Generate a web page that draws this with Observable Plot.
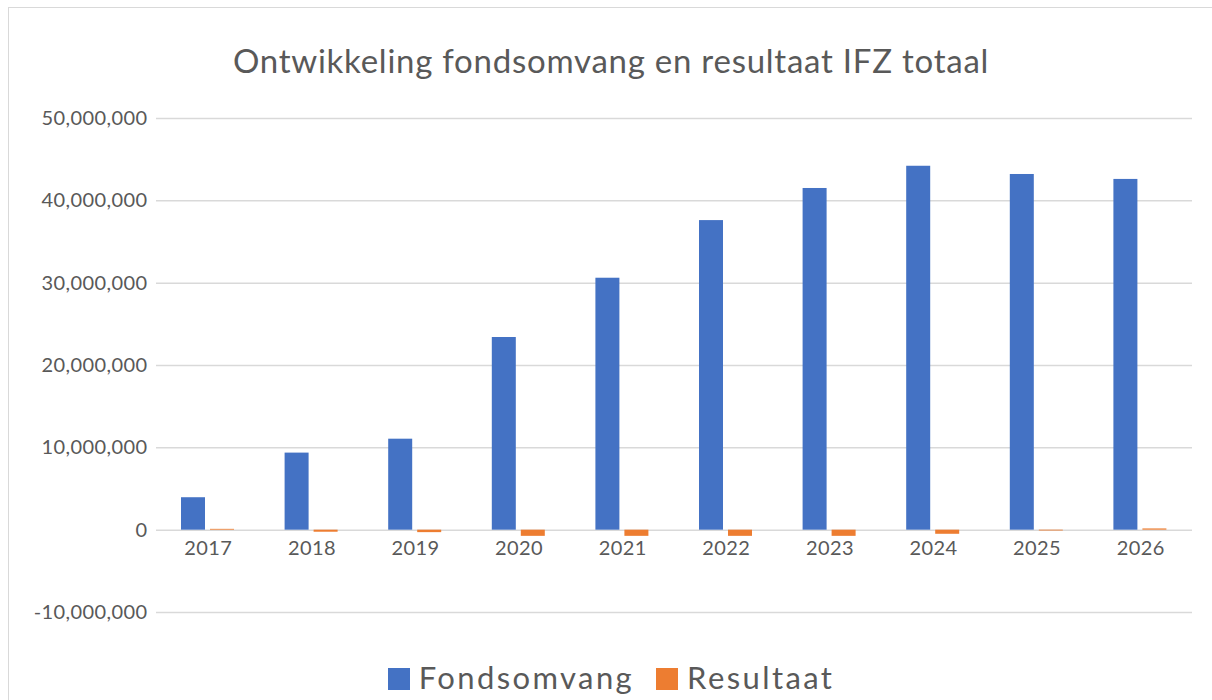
<!DOCTYPE html>
<html>
<head>
<meta charset="utf-8">
<script src="https://cdn.jsdelivr.net/npm/d3@7"></script>
<script src="https://cdn.jsdelivr.net/npm/@observablehq/plot@0.6"></script>
<style>
  html, body { margin: 0; padding: 0; background: #fff; overflow: hidden; }
  #wrap { position: relative; width: 1212px; height: 700px; overflow: hidden; font-family: Lato, sans-serif; color: #595959; }
  #frame { position: absolute; left: 8px; top: 7px; width: 1230px; height: 720px; border: 1.5px solid #d9d9d9; box-sizing: border-box; }
  #title { position: absolute; left: 0; top: 40px; width: 1222px; text-align: center; font-size: 33px; letter-spacing: 0.75px; line-height: 40px; }
  #chart { position: absolute; left: 0; top: 0; }
  #legend { position: absolute; left: 0; top: 657px; width: 1222px; display: flex; justify-content: center; align-items: center; font-size: 31px; letter-spacing: 2.4px; line-height: 40px; }
  .item { display: flex; align-items: center; }
  .sw { width: 22px; height: 22px; margin-right: 9px; margin-top: 4px; }
  #chart svg text { letter-spacing: 0.4px; }
</style>
</head>
<body>
<div id="wrap">
  <div id="frame"></div>
  <div id="chart"></div>
  <div id="title">Ontwikkeling fondsomvang en resultaat IFZ totaal</div>
  <div id="legend"></div>
</div>
<script>
const years = ["2017", "2018", "2019", "2020", "2021", "2022", "2023", "2024", "2025", "2026"];
const fondsomvang = [3940000, 9360000, 11050000, 23400000, 30600000, 37600000, 41500000, 44200000, 43200000, 42600000];
const resultaat = [100000, -250000, -300000, -750000, -750000, -750000, -750000, -500000, -100000, 150000];
const yTicks = [-10000000, 0, 10000000, 20000000, 30000000, 40000000, 50000000];
const seriesNames = ["Fondsomvang", "Resultaat"];
const seriesColors = ["#4472C4", "#ED7D31"];

const fData = years.map((y, i) => ({year: y, value: fondsomvang[i]}));
const rData = years.map((y, i) => ({year: y, value: resultaat[i]}));

const chart = Plot.plot({
  width: 1212,
  height: 640,
  marginTop: 118,
  marginBottom: 28,
  marginLeft: 156,
  marginRight: 20,
  style: {fontFamily: "Lato, sans-serif", fontSize: "20px", color: "#595959", background: "transparent", overflow: "visible"},
  x: {type: "band", domain: years, padding: 0, round: false, axis: null},
  y: {domain: [-10000000, 50000000], axis: null},
  marks: [
    Plot.ruleY(yTicks, {stroke: "#d9d9d9", strokeWidth: 1.5}),
    Plot.axisY({ticks: yTicks, tickSize: 0, tickPadding: 9, tickFormat: d => d.toLocaleString("en-US"), label: null, fill: "#595959"}),
    Plot.barY(fData, {x: "year", y: "value", fill: seriesColors[0], insetLeft: 25, insetRight: 54.6}),
    Plot.barY(rData, {x: "year", y: "value", fill: seriesColors[1], insetLeft: 54, insetRight: 25.6}),
    Plot.text(years, {x: d => d, y: () => 0, dy: 18, textAnchor: "middle", lineAnchor: "middle", fill: "#595959", fontSize: 20})
  ]
});
document.getElementById("chart").appendChild(chart);

const legend = document.getElementById("legend");
seriesNames.forEach((n, i) => {
  const it = document.createElement("div");
  it.className = "item";
  it.style.marginRight = i === 0 ? "22px" : "0";
  const sw = document.createElement("div");
  sw.className = "sw";
  sw.style.background = seriesColors[i];
  const t = document.createElement("span");
  t.textContent = n;
  it.appendChild(sw);
  it.appendChild(t);
  legend.appendChild(it);
});
</script>
</body>
</html>
